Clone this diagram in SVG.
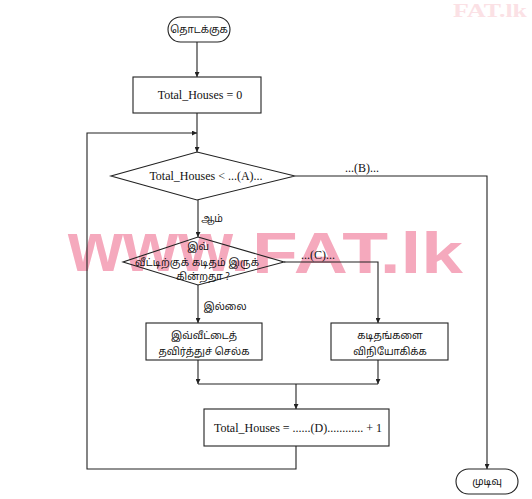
<svg xmlns="http://www.w3.org/2000/svg" width="532" height="499" viewBox="0 0 532 499">
<style>
.bg{fill:#ffffff}
.shape{fill:none;stroke:#222;stroke-width:1.1}
.line{fill:none;stroke:#222;stroke-width:1.1}
.en{font-family:"Liberation Serif","Times New Roman",serif;font-size:12px;fill:#111}
.ta{font-family:"Noto Sans Tamil","Lohit Tamil","Noto Sans",sans-serif;font-size:10px;fill:#111}
.wm{font-family:"Liberation Sans",Arial,sans-serif;font-weight:bold;fill:#f5a9bd}
.wm2{font-family:"Liberation Serif","Times New Roman",serif;font-weight:bold;fill:#fbe1e5}
</style>
<defs>
<marker id="arr" viewBox="0 0 8 8" refX="8" refY="4" markerWidth="5" markerHeight="5" orient="auto" markerUnits="userSpaceOnUse">
<path d="M0,0 L8,4 L0,8 z" fill="#222"/>
</marker>
</defs>
<rect class="bg" x="0" y="0" width="532" height="499"/>
<g id="watermark">
<text class="wm" x="68" y="271" font-size="70" textLength="182" lengthAdjust="spacingAndGlyphs">www.</text>
<text class="wm" x="252" y="273" font-size="58" textLength="211" lengthAdjust="spacingAndGlyphs">FAT.lk</text>
<text class="wm2" x="453" y="17" font-size="18" textLength="74" lengthAdjust="spacingAndGlyphs">FAT.lk</text>
</g>
<g id="connectors">
<line class="line" x1="197" y1="42" x2="197" y2="77" marker-end="url(#arr)"/>
<line class="line" x1="197" y1="113" x2="197" y2="152" marker-end="url(#arr)"/>
<polyline class="line" points="296,446 296,469 87,469 87,133 197,133" marker-end="url(#arr)"/>
<polyline class="line" points="295,176 487,176 487,469" marker-end="url(#arr)"/>
<line class="line" x1="198" y1="200" x2="198" y2="237" marker-end="url(#arr)"/>
<line class="line" x1="198" y1="285" x2="198" y2="323" marker-end="url(#arr)"/>
<polyline class="line" points="284,262 378,262 378,323" marker-end="url(#arr)"/>
<line class="line" x1="198" y1="360" x2="198" y2="384" marker-end="url(#arr)"/>
<line class="line" x1="378" y1="360" x2="378" y2="384" marker-end="url(#arr)"/>
<line class="line" x1="198" y1="384" x2="378" y2="384"/>
<line class="line" x1="296" y1="384" x2="296" y2="409" marker-end="url(#arr)"/>
<text class="en" x="362" y="172" text-anchor="middle">...(B)...</text>
<text class="ta" x="212" y="222" text-anchor="middle">ஆம்</text>
<text class="en" x="318" y="259" text-anchor="middle">...(C)...</text>
<text class="ta" x="225" y="310" text-anchor="middle">இல்லை</text>
</g>
<g id="start">
<rect class="shape" x="168" y="17" width="62" height="25" rx="12.5"/>
<text class="ta" x="199" y="33" text-anchor="middle">தொடக்குக</text>
</g>
<g id="init">
<rect class="shape" x="133" y="77" width="128" height="36"/>
<text class="en" x="200" y="99" text-anchor="middle">Total_Houses = 0</text>
</g>
<g id="cond1">
<polygon class="shape" points="197,152 295,176 197,200 111,176"/>
<text class="en" x="206" y="180" text-anchor="middle">Total_Houses &lt; ...(A)...</text>
</g>
<g id="cond2">
<polygon class="shape" points="198,237 284,262 198,285 123,262"/>
<text class="ta" x="198" y="250" text-anchor="middle">இவ்</text>
<text class="ta" x="197" y="266" text-anchor="middle" textLength="124" lengthAdjust="spacing">வீட்டிற்குக்  கடிதம்  இருக்</text>
<text class="ta" x="203" y="280" text-anchor="middle">கின்றதா ?</text>
</g>
<g id="skip">
<rect class="shape" x="146" y="323" width="116" height="37"/>
<text class="ta" x="204" y="339" text-anchor="middle">இவ்வீட்டைத்</text>
<text class="ta" x="204" y="355" text-anchor="middle">தவிர்த்துச்  செல்க</text>
</g>
<g id="deliver">
<rect class="shape" x="331" y="323" width="117" height="37"/>
<text class="ta" x="390" y="339" text-anchor="middle">கடிதங்களை</text>
<text class="ta" x="390" y="355" text-anchor="middle">விநியோகிக்க</text>
</g>
<g id="increment">
<rect class="shape" x="204" y="409" width="185" height="37"/>
<text class="en" x="298" y="432" text-anchor="middle">Total_Houses = ......(D)............ + 1</text>
</g>
<g id="end">
<rect class="shape" x="456" y="469" width="62" height="25" rx="12.5"/>
<text class="ta" x="487" y="485" text-anchor="middle">முடிவு</text>
</g>
</svg>
